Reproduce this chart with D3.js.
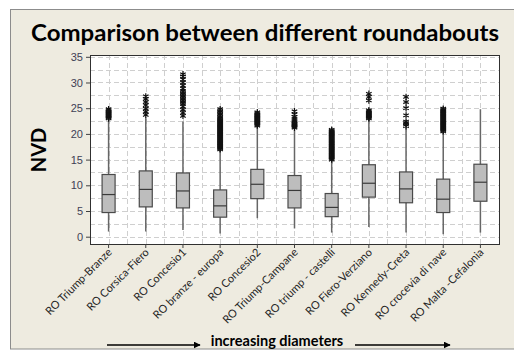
<!DOCTYPE html>
<html>
<head>
<meta charset="utf-8">
<script src="https://cdn.jsdelivr.net/npm/d3@7"></script>
<style>
  body { margin: 0; background: #fff; }
  svg { display: block; }
</style>
</head>
<body>
<svg id="chart" width="514" height="351"></svg>
<script>
const categories = [
  'RO Triump-Branze', 'RO Corsica-Fiero', 'RO Concesio1', 'RO branze - europa',
  'RO Concesio2', 'RO Triump-Campane', 'RO triump - castelli', 'RO Fiero-Verziano',
  'RO Kennedy-Creta', 'RO crocevia di nave', 'RO Malta -Cefalonia'
];
const whiskerLow = [1.0, 1.0, 1.3, 0.6, 3.6, 1.6, 0.8, 1.9, 0.8, 0.5, 0.8];
const q1 = [4.7, 5.8, 5.6, 3.8, 7.4, 5.6, 3.9, 7.7, 6.6, 4.7, 6.9];
const median = [8.2, 9.2, 8.9, 6.0, 10.2, 9.0, 5.7, 10.4, 9.3, 7.3, 10.6];
const q3 = [12.1, 12.8, 12.4, 9.1, 13.1, 11.9, 8.4, 14.0, 12.6, 11.2, 14.1];
const whiskerHigh = [22.8, 23.2, 22.4, 16.9, 21.4, 20.7, 14.8, 22.9, 21.1, 20.4, 24.8];
const outliers = [
  [23.0, 23.2, 23.4, 23.6, 23.8, 24.0, 24.2, 24.4, 24.6, 24.8],
  [23.7, 24.3, 24.9, 25.6, 26.2, 26.8, 27.3],
  [23.5, 24.1, 24.7, 25.3, 25.9, 26.2, 26.5, 26.8, 27.1, 27.4, 27.7, 28.0, 28.3, 28.8, 29.4, 30.0, 30.6, 31.2, 31.6],
  [17.0, 17.2, 17.4, 17.6, 17.8, 18.0, 18.2, 18.4, 18.6, 18.8, 19.0, 19.2, 19.4, 19.6, 19.8, 20.0, 20.2,
   20.4, 20.6, 20.8, 21.0, 21.2, 21.4, 21.6, 21.8, 22.0, 22.2, 22.4, 22.6, 22.8, 23.0, 23.3, 23.6, 23.9,
   24.2, 24.5, 24.8],
  [21.6, 21.8, 22.0, 22.2, 22.4, 22.6, 22.8, 23.0, 23.2, 23.4, 23.6, 23.8, 24.0, 24.2],
  [21.2, 21.4, 21.6, 21.8, 22.0, 22.2, 22.5, 22.9, 23.3, 23.8, 24.4],
  [15.0, 15.2, 15.4, 15.6, 15.8, 16.0, 16.2, 16.4, 16.6, 16.8, 17.0, 17.2, 17.4, 17.6, 17.8, 18.0, 18.2,
   18.4, 18.6, 18.8, 19.0, 19.2, 19.4, 19.6, 19.8, 20.0, 20.2, 20.4, 20.6, 20.8],
  [23.0, 23.2, 23.4, 23.6, 23.8, 24.0, 24.2, 24.4, 24.6, 26.5, 27.2, 27.8],
  [21.5, 21.8, 22.1, 22.4, 23.6, 25.0, 26.2, 27.2],
  [20.5, 20.7, 20.9, 21.1, 21.3, 21.5, 21.7, 21.9, 22.1, 22.3, 22.5, 22.7, 22.9, 23.1, 23.3, 23.5, 23.7,
   23.9, 24.1, 24.3, 24.5, 24.7, 24.9],
  []
];
const yTicks = [0, 5, 10, 15, 20, 25, 30, 35];
const yGrid = [0, 2.5, 5, 7.5, 10, 12.5, 15, 17.5, 20, 22.5, 25, 27.5, 30, 32.5, 35];

const svg = d3.select('#chart');
const W = 514;
const plot = { left: 90, top: 55, right: 499, bottom: 244 };

// frame
svg.append('rect').attr('x', 10.5).attr('y', 9.5).attr('width', W).attr('height', 339.5)
  .attr('fill', '#eeebe0').attr('stroke', '#8c8c8c');

const x = d3.scaleBand().domain(categories).range([plot.left, plot.right]).padding(0);
const y = d3.scaleLinear().domain([-1.42, 35.35]).range([plot.bottom, plot.top]);

svg.append('rect').attr('x', plot.left).attr('y', plot.top)
  .attr('width', plot.right - plot.left).attr('height', plot.bottom - plot.top)
  .attr('fill', '#fff');

const grid = svg.append('g').attr('stroke', '#cfcfcf').attr('stroke-dasharray', '5,3').attr('stroke-width', 1);
grid.selectAll('line.h').data(yGrid).join('line')
  .attr('x1', plot.left).attr('x2', plot.right)
  .attr('y1', d => Math.round(y(d)) + 0.5).attr('y2', d => Math.round(y(d)) + 0.5);
const vGrid = [];
categories.forEach(c => { vGrid.push(x(c) + x.bandwidth() / 2); vGrid.push(x(c) + x.bandwidth()); });
grid.selectAll('line.v').data(vGrid.slice(0, -1)).join('line')
  .attr('y1', plot.top).attr('y2', plot.bottom)
  .attr('x1', d => Math.round(d) + 0.5).attr('x2', d => Math.round(d) + 0.5);

svg.append('rect').attr('x', plot.left + 0.5).attr('y', plot.top + 0.5)
  .attr('width', plot.right - plot.left).attr('height', plot.bottom - plot.top)
  .attr('fill', 'none').attr('stroke', '#303030');

// axes
const yAxis = svg.append('g').attr('transform', `translate(${plot.left},0)`)
  .call(d3.axisLeft(y).tickValues(yTicks).tickSize(4).tickPadding(3));
yAxis.select('.domain').remove();
yAxis.selectAll('line').attr('stroke', '#404040');
yAxis.selectAll('text').attr('font-family', 'Liberation Sans, Arial').attr('font-size', 11)
  .attr('fill', '#3f3f55');

const xAxis = svg.append('g').attr('transform', `translate(0,${plot.bottom})`)
  .call(d3.axisBottom(x).tickSize(4).tickSizeOuter(0));
xAxis.select('.domain').remove();
xAxis.selectAll('line').attr('stroke', '#404040');
xAxis.selectAll('text')
  .attr('font-family', 'Lato, Calibri, sans-serif').attr('font-size', 11).attr('fill', '#262626')
  .attr('text-anchor', 'end').attr('dy', 0).attr('y', 0)
  .attr('transform', 'translate(4,9) rotate(-45)');

// boxes
const cx = i => x(categories[i]) + x.bandwidth() / 2;
const bw = 13;
const boxes = svg.append('g');
categories.forEach((c, i) => {
  const g = boxes.append('g');
  g.append('line').attr('x1', cx(i)).attr('x2', cx(i))
    .attr('y1', y(whiskerLow[i])).attr('y2', y(whiskerHigh[i]))
    .attr('stroke', '#666').attr('stroke-width', 1.5);
  g.append('rect').attr('x', cx(i) - bw / 2).attr('width', bw)
    .attr('y', y(q3[i])).attr('height', y(q1[i]) - y(q3[i]))
    .attr('fill', '#bdbdbd').attr('stroke', '#4a4a4a').attr('stroke-width', 1.2);
  g.append('line').attr('x1', cx(i) - bw / 2).attr('x2', cx(i) + bw / 2)
    .attr('y1', y(median[i])).attr('y2', y(median[i]))
    .attr('stroke', '#3a3a3a').attr('stroke-width', 1.2);
  const sym = d3.symbol().type(d3.symbolAsterisk).size(28);
  g.selectAll('path').data(outliers[i]).join('path')
    .attr('d', sym)
    .attr('transform', d => `translate(${cx(i)},${y(d)})`)
    .attr('fill', 'none').attr('stroke', '#111').attr('stroke-width', 1.2);
});

// texts
svg.append('text').attr('x', 265).attr('y', 41).attr('text-anchor', 'middle')
  .attr('font-family', 'Lato, Calibri, sans-serif').attr('font-weight', 'bold').attr('font-size', 23)
  .attr('textLength', 468).attr('lengthAdjust', 'spacingAndGlyphs')
  .attr('fill', '#000').text('Comparison between different roundabouts');

svg.append('text').attr('transform', 'translate(46,150) rotate(-90)').attr('text-anchor', 'middle')
  .attr('font-family', 'Lato, Calibri, sans-serif').attr('font-weight', 'bold').attr('font-size', 20)
  .attr('fill', '#000').text('NVD');

svg.append('text').attr('x', 277).attr('y', 346).attr('text-anchor', 'middle')
  .attr('font-family', 'Lato, Calibri, sans-serif').attr('font-weight', 'bold').attr('font-size', 14.5)
  .attr('fill', '#000').text('increasing diameters');

const defs = svg.append('defs');
defs.append('marker').attr('id', 'arr').attr('viewBox', '0 0 10 10').attr('refX', 9).attr('refY', 5)
  .attr('markerWidth', 7).attr('markerHeight', 7).attr('markerUnits', 'userSpaceOnUse').attr('orient', 'auto')
  .append('path').attr('d', 'M0,0 L10,5 L0,10 z').attr('fill', '#000');
[[107, 200], [355, 450]].forEach(([a, b]) => {
  svg.append('line').attr('x1', a).attr('x2', b).attr('y1', 345).attr('y2', 345)
    .attr('stroke', '#000').attr('stroke-width', 1.6).attr('marker-end', 'url(#arr)');
});
</script>
</body>
</html>
